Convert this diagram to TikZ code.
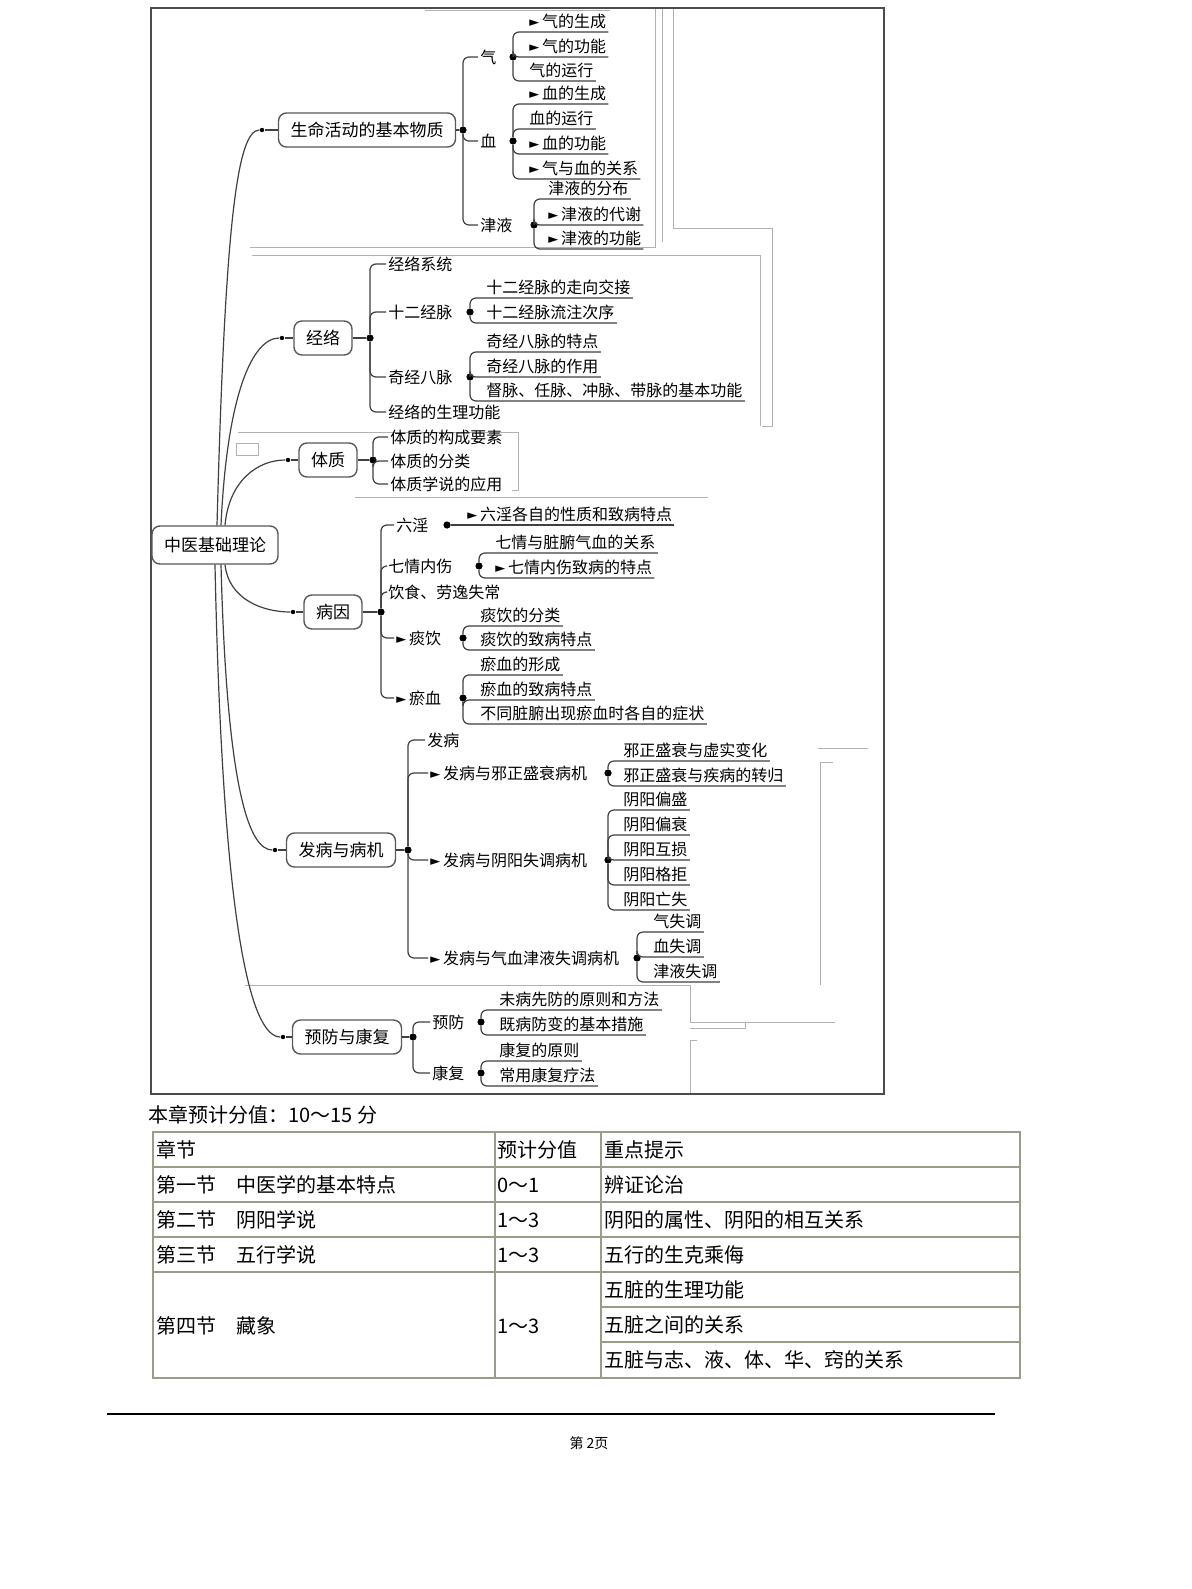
\documentclass[tikz,border=0pt]{standalone}
\usepackage{fontspec}
\setmainfont{Noto Sans CJK SC}
\newfontfamily\symfont{DejaVu Sans}
\newcommand\mapfont{\fontsize{8}{9}\selectfont}
\newcommand\boxfont{\fontsize{8.5}{10}\selectfont}
\newcommand\tabfont{\fontsize{10}{12}\selectfont}
\newcommand\flg{{\symfont\fontsize{6.5}{6.5}\selectfont\raisebox{0.4pt}{►}}\,}
\tikzset{
  topic/.style={draw=black!65, line width=0.7pt, rounded corners=4pt, inner xsep=6pt, minimum height=17pt, font=\boxfont},
  branch/.style={anchor=west, inner sep=1pt, font=\mapfont},
  leaf/.style={anchor=south west, inner xsep=1pt, inner ysep=1.5pt, font=\mapfont},
  wire/.style={draw=black!75, line width=0.6pt, rounded corners=3pt},
  hubdot/.style={circle, fill=black, inner sep=0pt, minimum size=3.6pt},
  enddot/.style={circle, fill=black, inner sep=0pt, minimum size=2.2pt},
  ghost/.style={draw=black!30, line width=0.4pt},
  tabline/.style={draw={rgb,255:red,155;green,155;blue,135}, line width=1pt},
  cell/.style={anchor=west, inner sep=0pt, font=\tabfont}
}
\begin{document}
\begin{tikzpicture}[x=0.5pt,y=-0.5pt]
\useasboundingbox (0,0) rectangle (1191,1589);
\fill[white] (0,0) rectangle (1191,1589);

% stray lines of the scanned map
\draw[ghost] (425,10) -- (610,10);
\draw[ghost] (655,8) -- (655,247) -- (250,247);
\draw[ghost] (662,8) -- (662,242);
\draw[ghost] (673,8) -- (673,228) -- (772,228) -- (772,426) -- (762,426);
\draw[ghost] (252,255) -- (760,255) -- (760,426);
\draw[ghost] (238,432) -- (518,432) -- (518,490) -- (512,490);
\draw[ghost] (236,443) rectangle (258,455);
\draw[ghost] (355,497) -- (708,497);
\draw[ghost] (818,748) -- (868,748);
\draw[ghost] (833,762) -- (820,762) -- (820,985);
\draw[ghost] (245,985) -- (690,985) -- (690,1022) -- (835,1022);
\draw[ghost] (690,1028) -- (745,1028) -- (745,1022);
\draw[ghost] (697,1040) -- (690,1040) -- (690,1094);

% frame
\draw[black!70, line width=1pt] (151,8) rectangle (884,1094);

% root and main topics
\node[topic, minimum width=60pt, minimum height=19pt] (root) at (215,545) {中医基础理论};
\node[topic] (wuzhi) at (367,130) {生命活动的基本物质};
\node[topic] (jingluo) at (323,338) {经络};
\node[topic] (tizhi) at (328,460) {体质};
\node[topic] (bingyin) at (333,612) {病因};
\node[topic] (bingji) at (341,850) {发病与病机};
\node[topic] (yufang) at (347,1037) {预防与康复};

\node[enddot] (wuzhiL) at (262,130) {};
\node[enddot] (jingluoL) at (282,338) {};
\node[enddot] (tizhiL) at (288,460) {};
\node[enddot] (bingyinL) at (293,612) {};
\node[enddot] (bingjiL) at (275,850) {};
\node[enddot] (yufangL) at (283,1037) {};
\node[hubdot] (wuzhiR) at (463,130) {};
\node[hubdot] (jingluoR) at (370,338) {};
\node[hubdot] (tizhiR) at (373,460) {};
\node[hubdot] (bingyinR) at (381,612) {};
\node[hubdot] (bingjiR) at (408,850) {};
\node[hubdot] (yufangR) at (413,1037) {};

\draw[wire] ([xshift=1pt]root.north) .. controls +(8,-300) and +(-25,0) .. (wuzhiL);
\draw[wire] ([xshift=3pt]root.north) .. controls +(6,-130) and +(-30,0) .. (jingluoL);
\draw[wire] ([xshift=5pt]root.north) .. controls +(4,-45) and +(-30,0) .. (tizhiL);
\draw[wire] ([xshift=5pt]root.south) .. controls +(4,35) and +(-30,0) .. (bingyinL);
\draw[wire] ([xshift=3pt]root.south) .. controls +(6,230) and +(-25,0) .. (bingjiL);
\draw[wire] ([xshift=0pt]root.south) .. controls +(8,380) and +(-30,0) .. (yufangL);
\foreach \t in {wuzhi,jingluo,tizhi,bingyin,bingji,yufang}
  \draw[wire] (\t L) -- (\t) -- (\t R);

% 生命活动的基本物质
\node[branch] (qi) at (478,57) {气};
\node[branch] (xue) at (478,141) {血};
\node[branch] (jinye) at (478,225) {津液};
\node[hubdot] (qiR) at (513,57) {};
\node[hubdot] (xueR) at (513,141) {};
\node[hubdot] (jinyeR) at (534,225) {};
\node[leaf] (qi1) at (527,32) {\flg 气的生成};
\node[leaf] (qi2) at (527,57) {\flg 气的功能};
\node[leaf] (qi3) at (527,81) {气的运行};
\node[leaf] (xue1) at (527,104) {\flg 血的生成};
\node[leaf] (xue2) at (527,129) {血的运行};
\node[leaf] (xue3) at (527,154) {\flg 血的功能};
\node[leaf] (xue4) at (527,179) {\flg 气与血的关系};
\node[leaf] (jinye1) at (546,199) {津液的分布};
\node[leaf] (jinye2) at (546,225) {\flg 津液的代谢};
\node[leaf] (jinye3) at (546,249) {\flg 津液的功能};
\foreach \n in {qi,xue,jinye} \draw[wire] (wuzhiR) |- (\n.west);
\foreach \n in {qi1,qi2,qi3} \draw[wire] (qiR) |- (\n.south east);
\foreach \n in {xue1,xue2,xue3,xue4} \draw[wire] (xueR) |- (\n.south east);
\foreach \n in {jinye1,jinye2,jinye3} \draw[wire] (jinyeR) |- (\n.south east);

% 经络
\node[branch] (xitong) at (386,264) {经络系统};
\node[branch] (shier) at (386,312) {十二经脉};
\node[branch] (qijing) at (386,377) {奇经八脉};
\node[branch] (gongneng) at (386,412) {经络的生理功能};
\node[hubdot] (shierR) at (470,312) {};
\node[hubdot] (qijingR) at (470,377) {};
\node[leaf] (shier1) at (484,298) {十二经脉的走向交接};
\node[leaf] (shier2) at (484,323) {十二经脉流注次序};
\node[leaf] (qijing1) at (484,352) {奇经八脉的特点};
\node[leaf] (qijing2) at (484,377) {奇经八脉的作用};
\node[leaf] (qijing3) at (484,401) {督脉、任脉、冲脉、带脉的基本功能};
\foreach \n in {xitong,shier,qijing,gongneng} \draw[wire] (jingluoR) |- (\n.west);
\foreach \n in {shier1,shier2} \draw[wire] (shierR) |- (\n.south east);
\foreach \n in {qijing1,qijing2,qijing3} \draw[wire] (qijingR) |- (\n.south east);

% 体质
\node[branch] (yaosu) at (388,437) {体质的构成要素};
\node[branch] (fenlei) at (388,461) {体质的分类};
\node[branch] (yingyong) at (388,484) {体质学说的应用};
\foreach \n in {yaosu,fenlei,yingyong} \draw[wire] (tizhiR) |- (\n.west);

% 病因
\node[branch] (liuyin) at (394,525) {六淫};
\node[branch] (qiqing) at (386,566) {七情内伤};
\node[branch] (yinshi) at (386,592) {饮食、劳逸失常};
\node[branch] (tanyin) at (394,638) {\flg 痰饮};
\node[branch] (yuxue) at (394,698) {\flg 瘀血};
\node[hubdot] (liuyinR) at (447,525) {};
\node[hubdot] (qiqingR) at (479,566) {};
\node[hubdot] (tanyinR) at (463,638) {};
\node[hubdot] (yuxueR) at (463,698) {};
\node[leaf] (liuyin1) at (465,525) {\flg 六淫各自的性质和致病特点};
\node[leaf] (qiqing1) at (493,553) {七情与脏腑气血的关系};
\node[leaf] (qiqing2) at (493,578) {\flg 七情内伤致病的特点};
\node[leaf] (tanyin1) at (478,626) {痰饮的分类};
\node[leaf] (tanyin2) at (478,650) {痰饮的致病特点};
\node[leaf] (yuxue1) at (478,675) {瘀血的形成};
\node[leaf] (yuxue2) at (478,700) {瘀血的致病特点};
\node[leaf] (yuxue3) at (478,724) {不同脏腑出现瘀血时各自的症状};
\foreach \n in {liuyin,qiqing,yinshi,tanyin,yuxue} \draw[wire] (bingyinR) |- (\n.west);
\draw[wire] (liuyinR) -- (liuyin1.south east);
\foreach \n in {qiqing1,qiqing2} \draw[wire] (qiqingR) |- (\n.south east);
\foreach \n in {tanyin1,tanyin2} \draw[wire] (tanyinR) |- (\n.south east);
\foreach \n in {yuxue1,yuxue2,yuxue3} \draw[wire] (yuxueR) |- (\n.south east);

% 发病与病机
\node[branch] (fabing) at (425,740) {发病};
\node[branch] (xiezheng) at (428,773) {\flg 发病与邪正盛衰病机};
\node[branch] (yinyang) at (428,860) {\flg 发病与阴阳失调病机};
\node[branch] (qixue) at (428,958) {\flg 发病与气血津液失调病机};
\node[hubdot] (xiezhengR) at (608,773) {};
\node[hubdot] (yinyangR) at (608,860) {};
\node[hubdot] (qixueR) at (637,958) {};
\node[leaf] (xiezheng1) at (621,761) {邪正盛衰与虚实变化};
\node[leaf] (xiezheng2) at (621,786) {邪正盛衰与疾病的转归};
\node[leaf] (yinyang1) at (621,810) {阴阳偏盛};
\node[leaf] (yinyang2) at (621,835) {阴阳偏衰};
\node[leaf] (yinyang3) at (621,860) {阴阳互损};
\node[leaf] (yinyang4) at (621,885) {阴阳格拒};
\node[leaf] (yinyang5) at (621,910) {阴阳亡失};
\node[leaf] (qixue1) at (651,932) {气失调};
\node[leaf] (qixue2) at (651,957) {血失调};
\node[leaf] (qixue3) at (651,982) {津液失调};
\foreach \n in {fabing,xiezheng,yinyang,qixue} \draw[wire] (bingjiR) |- (\n.west);
\foreach \n in {xiezheng1,xiezheng2} \draw[wire] (xiezhengR) |- (\n.south east);
\foreach \n in {yinyang1,yinyang2,yinyang3,yinyang4,yinyang5} \draw[wire] (yinyangR) |- (\n.south east);
\foreach \n in {qixue1,qixue2,qixue3} \draw[wire] (qixueR) |- (\n.south east);

% 预防与康复
\node[branch] (yf) at (430,1022) {预防};
\node[branch] (kf) at (430,1073) {康复};
\node[hubdot] (yfR) at (481,1022) {};
\node[hubdot] (kfR) at (481,1073) {};
\node[leaf] (yf1) at (497,1010) {未病先防的原则和方法};
\node[leaf] (yf2) at (497,1035) {既病防变的基本措施};
\node[leaf] (kf1) at (497,1061) {康复的原则};
\node[leaf] (kf2) at (497,1086) {常用康复疗法};
\foreach \n in {yf,kf} \draw[wire] (yufangR) |- (\n.west);
\foreach \n in {yf1,yf2} \draw[wire] (yfR) |- (\n.south east);
\foreach \n in {kf1,kf2} \draw[wire] (kfR) |- (\n.south east);

% score table
\node[cell] (caption) at (148,1115) {本章预计分值：10～15 分};
\draw[tabline] (153,1132) rectangle (1020,1378);
\draw[tabline] (153,1167) -- (1020,1167);
\draw[tabline] (153,1202) -- (1020,1202);
\draw[tabline] (153,1237) -- (1020,1237);
\draw[tabline] (153,1272) -- (1020,1272);
\draw[tabline] (601,1307) -- (1020,1307);
\draw[tabline] (601,1342) -- (1020,1342);
\draw[tabline] (495,1132) -- (495,1378);
\draw[tabline] (601,1132) -- (601,1378);
\node[cell] (h1) at (156,1150) {章节};
\node[cell] (h2) at (497,1150) {预计分值};
\node[cell] (h3) at (604,1150) {重点提示};
\node[cell] (a1) at (156,1185) {第一节\quad 中医学的基本特点};
\node[cell] (a2) at (497,1185) {0～1};
\node[cell] (a3) at (604,1185) {辨证论治};
\node[cell] (b1) at (156,1220) {第二节\quad 阴阳学说};
\node[cell] (b2) at (497,1220) {1～3};
\node[cell] (b3) at (604,1220) {阴阳的属性、阴阳的相互关系};
\node[cell] (c1) at (156,1255) {第三节\quad 五行学说};
\node[cell] (c2) at (497,1255) {1～3};
\node[cell] (c3) at (604,1255) {五行的生克乘侮};
\node[cell] (d1) at (156,1326) {第四节\quad 藏象};
\node[cell] (d2) at (497,1326) {1～3};
\node[cell] (d3) at (604,1290) {五脏的生理功能};
\node[cell] (d4) at (604,1325) {五脏之间的关系};
\node[cell] (d5) at (604,1360) {五脏与志、液、体、华、窍的关系};

% footer
\draw[black, line width=0.9pt] (107,1414) -- (995,1414);
\node[font=\fontsize{7}{8}\selectfont] (page) at (589,1443) {第 2页};
\end{tikzpicture}
\end{document}
